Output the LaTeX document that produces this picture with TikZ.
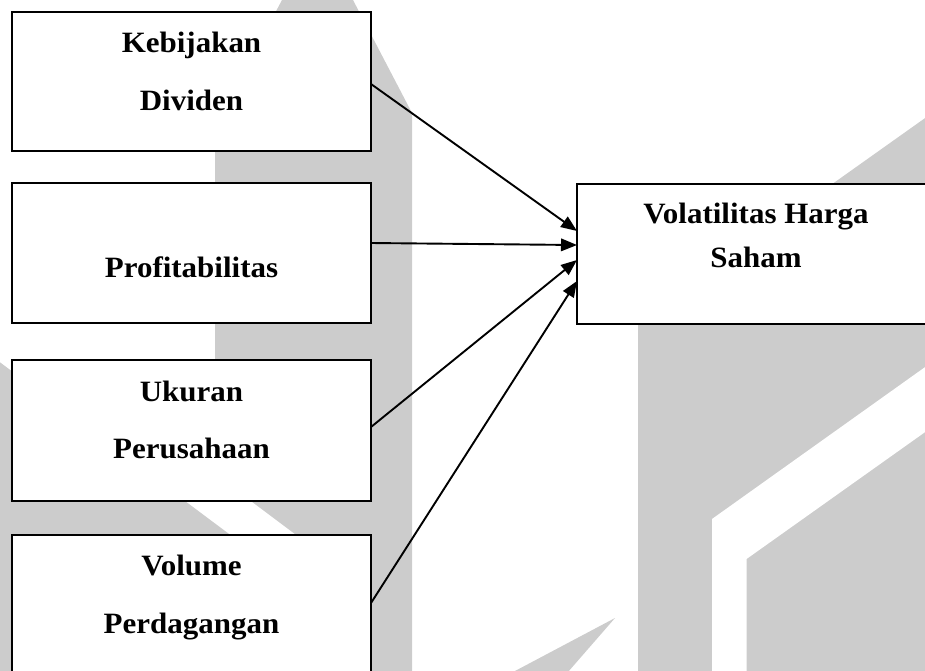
\documentclass[tikz,border=0pt]{standalone}
\usepackage{fontspec}
\setmainfont{Liberation Serif}[FakeStretch=1.05]
\usetikzlibrary{arrows.meta}
\definecolor{wm}{gray}{0.8}
\tikzset{
  box/.style={draw=black, fill=white, line width=1.9pt, rectangle, inner sep=0pt, outer sep=0pt},
  lbl/.style={anchor=base, inner sep=0pt, font=\fontsize{29.5}{35}\selectfont\bfseries},
  link/.style={line width=1.9pt, -{Triangle[length=16pt,width=12.5pt]}}
}
\begin{document}
\begin{tikzpicture}[x=1pt, y=-1pt]
\useasboundingbox (0,0) rectangle (925,670);
% watermark
\fill[wm] (215,690) -- (215,126) -- (282,0) -- (353,0) -- (412,113) -- (412,690) -- cycle;
\fill[wm] (0,362) -- (215,523) -- (215,690) -- (0,690) -- cycle;
\fill[wm] (63,360) -- (215,360) -- (215,474) -- cycle;
\fill[white] (0,313) -- (360,583) -- (360,632) -- (0,362) -- cycle;
\fill[wm] (638,322) -- (935,111) -- (935,690) -- (638,690) -- cycle;
\fill[white] (712,690) -- (712,519) -- (935,360) -- (935,425) -- (746.5,559) -- (746.5,690) -- cycle;
\fill[wm] (498,680) -- (615,618) -- (561,680) -- cycle;
% boxes
\node[box, minimum width=359pt, minimum height=139pt] (b1) at (191.5,81.5) {};
\node[box, minimum width=359pt, minimum height=140pt] (b2) at (191.5,253) {};
\node[box, minimum width=359pt, minimum height=141pt] (b3) at (191.5,430.5) {};
\node[box, minimum width=359pt, minimum height=145pt] (b4) at (191.5,607.5) {};
\node[box, minimum width=363pt, minimum height=140pt] (t) at (758.5,254) {};
% labels
\node[lbl] (l1) at (191.5,52) {Kebijakan};
\node[lbl] (l2) at (191.5,110) {Dividen};
\node[lbl] (l3) at (191.5,277) {Profitabilitas};
\node[lbl] (l4) at (191.5,401) {Ukuran};
\node[lbl] (l5) at (191.5,458) {Perusahaan};
\node[lbl] (l6) at (191.5,575) {Volume};
\node[lbl] (l7) at (191.5,633) {Perdagangan};
\node[lbl] (l8) at (756,223) {Volatilitas Harga};
\node[lbl] (l9) at (756,267) {Saham};
% arrows
\draw[link] ([yshift=-2.5pt]b1.east) -- ([yshift=23pt]t.west);
\draw[link] ([yshift=10pt]b2.east) -- ([yshift=9pt]t.west);
\draw[link] ([yshift=3.5pt]b3.east) -- ([yshift=-6pt]t.west);
\draw[link] ([yshift=4.5pt]b4.east) -- ([yshift=-27pt]t.west);
\end{tikzpicture}
\end{document}
